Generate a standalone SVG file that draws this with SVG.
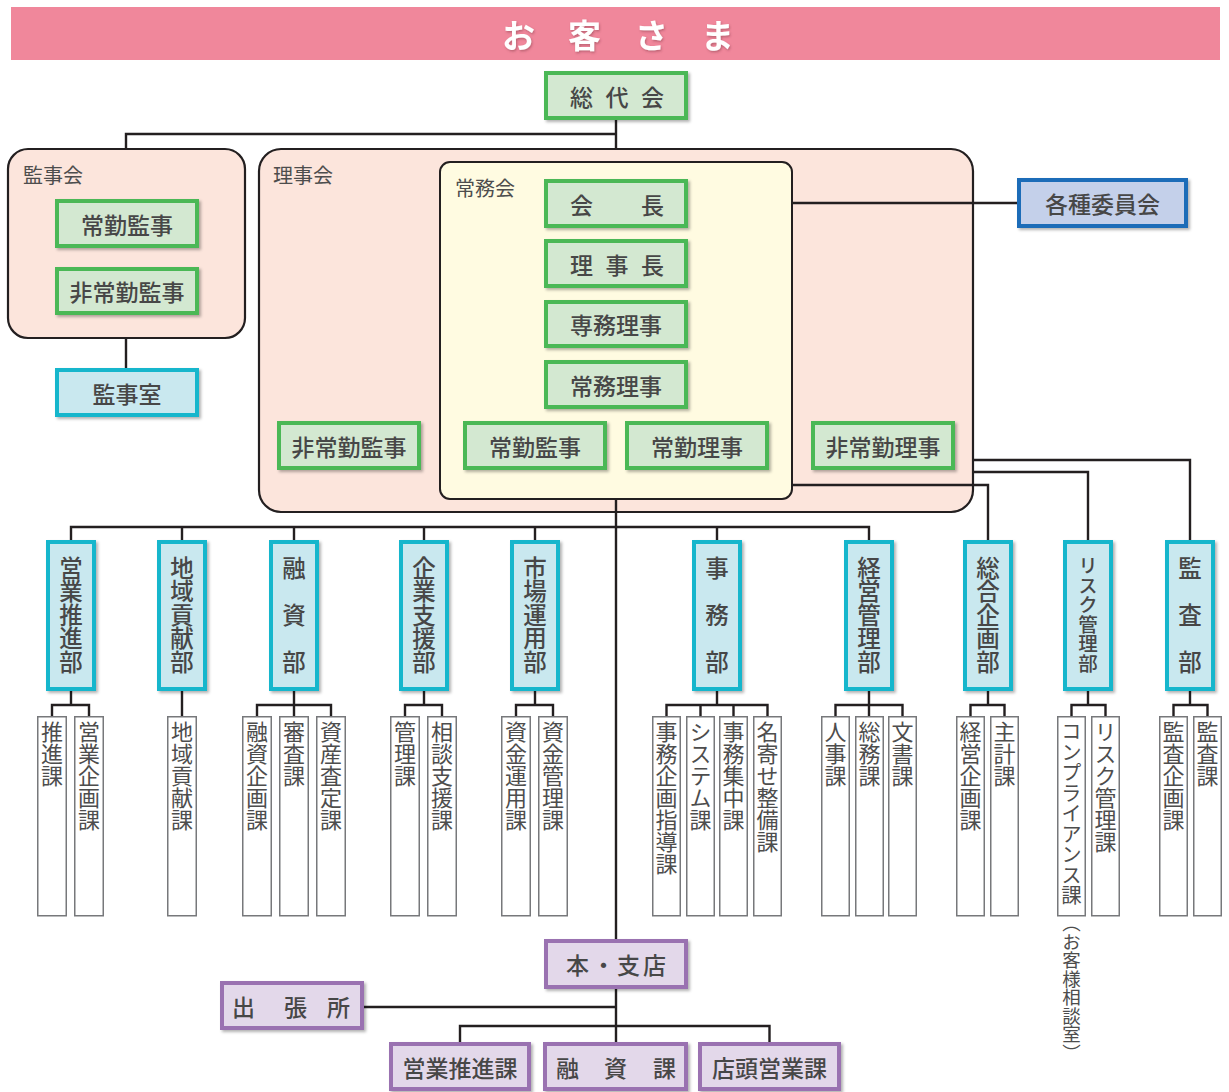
<svg xmlns="http://www.w3.org/2000/svg" width="1229" height="1092" viewBox="0 0 1229 1092">
<style>
.t{font-family:"Noto Sans CJK JP","Noto Sans",sans-serif;fill:#474747;font-size:23px;font-weight:500}
.h{dominant-baseline:central}
.m{text-anchor:middle}
.v{writing-mode:vertical-rl;font-size:23.5px}
.sec{font-family:"Noto Sans CJK JP","Noto Sans",sans-serif;fill:#4d4d4d;font-size:22px;font-weight:400;writing-mode:vertical-rl}
.lbl{font-family:"Noto Sans CJK JP","Noto Sans",sans-serif;fill:#4d4d4d;font-size:20px}
.g{fill:#d3e8d1;stroke:#4cb856;stroke-width:4;filter:url(#sh)}
.c{fill:#c9e8ef;stroke:#16b6cc;stroke-width:4;filter:url(#sh)}
.b{fill:#c4d0ea;stroke:#1a6cb8;stroke-width:4;filter:url(#sh)}
.p{fill:#e3d8ea;stroke:#9a72b1;stroke-width:4;filter:url(#sh)}
.s{fill:#fff;stroke:#77787b;stroke-width:1.5}
.ln{stroke:#231f20;stroke-width:2.4;fill:none}
.box{fill:#fce5dc;stroke:#231f20;stroke-width:2.2}
</style>
<defs>
<filter id="sh" x="-10%" y="-10%" width="130%" height="130%">
<feDropShadow dx="2" dy="2" stdDeviation="1.5" flood-color="#000" flood-opacity="0.3"/>
</filter>
<filter id="ts" x="-10%" y="-20%" width="130%" height="150%">
<feDropShadow dx="1" dy="1.5" stdDeviation="1" flood-color="#7a3040" flood-opacity="0.45"/>
</filter>
</defs>

<g id="banner">
<rect x="11" y="7" width="1209" height="53" fill="#f0879b"/>
<text x="502 535 568 602 635 668 701" y="34" class="h" font-family="'Noto Sans CJK JP',sans-serif" font-size="33" font-weight="bold" fill="#fff" filter="url(#ts)">お 客 さ ま</text>
</g>

<g id="containers">
<g id="kanjikai"><rect class="box" x="8" y="149" width="237" height="189" rx="20"/><text class="lbl" x="23" y="183">監事会</text></g>
<g id="rijikai"><rect class="box" x="259" y="149" width="714" height="363" rx="22"/><text class="lbl" x="273" y="183">理事会</text></g>
<g id="jomukai"><rect x="440" y="162" width="352" height="337" rx="10" fill="#fffbe1" stroke="#231f20" stroke-width="2"/><text class="lbl" x="455" y="196">常務会</text></g>
</g>

<g id="connectors">
<path class="ln" d="M616,120V149M126,149V134H616M126,338V368M792,203H1017M616,499V939"/>
<path class="ln" d="M71,540V527H869V540M182,527V540M294,527V540M424,527V540M535,527V540M717,527V540"/>
<path class="ln" d="M792,485H988V540M973,472H1088V540M973,460H1190V540"/>
<path class="ln" d="M71,691V705M52,716V705H89V716M182,691V716M294,691V716M257,716V705H331V716M424,691V705M405,716V705H442V716M535,691V705M516,716V705H553V716"/>
<path class="ln" d="M717,691V705M666.5,716V705H767.5V716M700.5,705V716M733.5,705V716M869,691V716M835.5,716V705H902.5V716M988,691V705M970.5,716V705H1004.5V716M1088,691V705M1071.5,716V705H1105.5V716M1190,691V705M1173.5,716V705H1207.5V716"/>
<path class="ln" d="M616,989V1042M364,1007H616M460,1042V1026H769.5V1042"/>
</g>

<g id="sodaikai"><rect class="g" x="546" y="73" width="140" height="45"/><text class="t h" x="570 593 605.5 629 641" y="95.5">総 代 会</text></g>
<g id="k_jokin"><rect class="g" x="57" y="201" width="140" height="45"/><text class="t h m" x="127" y="223.5">常勤監事</text></g>
<g id="k_hijokin"><rect class="g" x="57" y="269" width="140" height="44"/><text class="t h m" x="127" y="291">非常勤監事</text></g>
<g id="kanjishitsu"><rect class="c" x="57" y="370" width="140" height="45"/><text class="t h m" x="127" y="392.5">監事室</text></g>
<g id="kaicho"><rect class="g" x="546" y="181" width="140" height="45"/><text class="t h" x="570 593.5 617 641" y="203.5">会　　長</text></g>
<g id="rijicho"><rect class="g" x="546" y="241" width="140" height="45"/><text class="t h" x="570 593 605.5 629 641" y="263.5">理 事 長</text></g>
<g id="semmu"><rect class="g" x="546" y="302" width="140" height="44"/><text class="t h m" x="616" y="324">専務理事</text></g>
<g id="jomu"><rect class="g" x="546" y="362" width="140" height="45"/><text class="t h m" x="616" y="384.5">常務理事</text></g>
<g id="r_hijokin_kanji"><rect class="g" x="279" y="423" width="140" height="45"/><text class="t h m" x="349" y="445.5">非常勤監事</text></g>
<g id="r_jokin_kanji"><rect class="g" x="465" y="423" width="140" height="45"/><text class="t h m" x="535" y="445.5">常勤監事</text></g>
<g id="jokin_riji"><rect class="g" x="627" y="423" width="140" height="45"/><text class="t h m" x="697" y="445.5">常勤理事</text></g>
<g id="hijokin_riji"><rect class="g" x="813" y="423" width="140" height="45"/><text class="t h m" x="883" y="445.5">非常勤理事</text></g>
<g id="iinkai"><rect class="b" x="1019" y="180" width="167" height="46"/><text class="t h m" x="1102.5" y="203">各種委員会</text></g>

<g id="dept_eigyo"><rect class="c" x="48" y="542" width="46" height="147"/><text class="t v" x="71" y="556">営業推進部</text></g>
<g id="dept_chiiki"><rect class="c" x="159" y="542" width="46" height="147"/><text class="t v" x="182" y="556">地域貢献部</text></g>
<g id="dept_yushi"><rect class="c" x="271" y="542" width="46" height="147"/><text class="t v" x="294" y="556">融　資　部</text></g>
<g id="dept_kigyo"><rect class="c" x="401" y="542" width="46" height="147"/><text class="t v" x="424" y="556">企業支援部</text></g>
<g id="dept_shijo"><rect class="c" x="512" y="542" width="46" height="147"/><text class="t v" x="535" y="556">市場運用部</text></g>
<g id="dept_jimu"><rect class="c" x="694" y="542" width="46" height="147"/><text class="t v" x="717" y="556">事　務　部</text></g>
<g id="dept_keiei"><rect class="c" x="846" y="542" width="46" height="147"/><text class="t v" x="869" y="556">経営管理部</text></g>
<g id="dept_sogo"><rect class="c" x="965" y="542" width="46" height="147"/><text class="t v" x="988" y="556">総合企画部</text></g>
<g id="dept_risk"><rect class="c" x="1065" y="542" width="46" height="147"/><text class="t v" x="1088" y="556" style="font-size:19.5px">リスク管理部</text></g>
<g id="dept_kansa"><rect class="c" x="1167" y="542" width="46" height="147"/><text class="t v" x="1190" y="556">監　査　部</text></g>

<g id="sections">
<g id="s1"><rect class="s" x="37.75" y="716.75" width="28.5" height="199"/><text class="sec" x="52" y="721">推進課</text></g>
<g id="s2"><rect class="s" x="74.75" y="716.75" width="28.5" height="199"/><text class="sec" x="89" y="721">営業企画課</text></g>
<g id="s3"><rect class="s" x="167.75" y="716.75" width="28.5" height="199"/><text class="sec" x="182" y="721">地域貢献課</text></g>
<g id="s4"><rect class="s" x="242.75" y="716.75" width="28.5" height="199"/><text class="sec" x="257" y="721">融資企画課</text></g>
<g id="s5"><rect class="s" x="279.75" y="716.75" width="28.5" height="199"/><text class="sec" x="294" y="721">審査課</text></g>
<g id="s6"><rect class="s" x="316.75" y="716.75" width="28.5" height="199"/><text class="sec" x="331" y="721">資産査定課</text></g>
<g id="s7"><rect class="s" x="390.75" y="716.75" width="28.5" height="199"/><text class="sec" x="405" y="721">管理課</text></g>
<g id="s8"><rect class="s" x="427.75" y="716.75" width="28.5" height="199"/><text class="sec" x="442" y="721">相談支援課</text></g>
<g id="s9"><rect class="s" x="501.75" y="716.75" width="28.5" height="199"/><text class="sec" x="516" y="721">資金運用課</text></g>
<g id="s10"><rect class="s" x="538.75" y="716.75" width="28.5" height="199"/><text class="sec" x="553" y="721">資金管理課</text></g>
<g id="s11"><rect class="s" x="652.75" y="716.75" width="27.5" height="199"/><text class="sec" x="666.5" y="721">事務企画指導課</text></g>
<g id="s12"><rect class="s" x="686.75" y="716.75" width="27.5" height="199"/><text class="sec" x="700.5" y="721">システム課</text></g>
<g id="s13"><rect class="s" x="719.75" y="716.75" width="27.5" height="199"/><text class="sec" x="733.5" y="721">事務集中課</text></g>
<g id="s14"><rect class="s" x="753.75" y="716.75" width="27.5" height="199"/><text class="sec" x="767.5" y="721">名寄せ整備課</text></g>
<g id="s15"><rect class="s" x="821.75" y="716.75" width="27.5" height="199"/><text class="sec" x="835.5" y="721">人事課</text></g>
<g id="s16"><rect class="s" x="855.75" y="716.75" width="27.5" height="199"/><text class="sec" x="869.5" y="721">総務課</text></g>
<g id="s17"><rect class="s" x="888.75" y="716.75" width="27.5" height="199"/><text class="sec" x="902.5" y="721">文書課</text></g>
<g id="s18"><rect class="s" x="956.75" y="716.75" width="27.5" height="199"/><text class="sec" x="970.5" y="721">経営企画課</text></g>
<g id="s19"><rect class="s" x="990.75" y="716.75" width="27.5" height="199"/><text class="sec" x="1004.5" y="721">主計課</text></g>
<g id="s20"><rect class="s" x="1057.75" y="716.75" width="27.5" height="199"/><text class="sec" x="1071.5" y="721" style="font-size:20.5px">コンプライアンス課</text><text class="sec" x="1071.5" y="914" style="font-size:18.5px">（お客様相談室）</text></g>
<g id="s21"><rect class="s" x="1091.75" y="716.75" width="27.5" height="199"/><text class="sec" x="1105.5" y="721">リスク管理課</text></g>
<g id="s22"><rect class="s" x="1159.75" y="716.75" width="27.5" height="199"/><text class="sec" x="1173.5" y="721">監査企画課</text></g>
<g id="s23"><rect class="s" x="1193.75" y="716.75" width="27.5" height="199"/><text class="sec" x="1207.5" y="721">監査課</text></g>
</g>

<g id="honshiten"><rect class="p" x="546" y="941" width="140" height="46"/><text class="t h" x="566 592 617 643" y="964">本・支店</text></g>
<g id="shutchojo"><rect class="p" x="222" y="983" width="140" height="45"/><text class="t h" x="232 256 284 308 327" y="1005.5">出 張 所</text></g>
<g id="eigyo_ka"><rect class="p" x="391" y="1044" width="138" height="45"/><text class="t h m" x="460" y="1066.5">営業推進課</text></g>
<g id="yushi_ka"><rect class="p" x="545" y="1044" width="141" height="45"/><text class="t h" x="556 580 604 628 653" y="1066.5">融 資 課</text></g>
<g id="tento_ka"><rect class="p" x="700" y="1044" width="139" height="45"/><text class="t h m" x="769.5" y="1066.5">店頭営業課</text></g>
</svg>
